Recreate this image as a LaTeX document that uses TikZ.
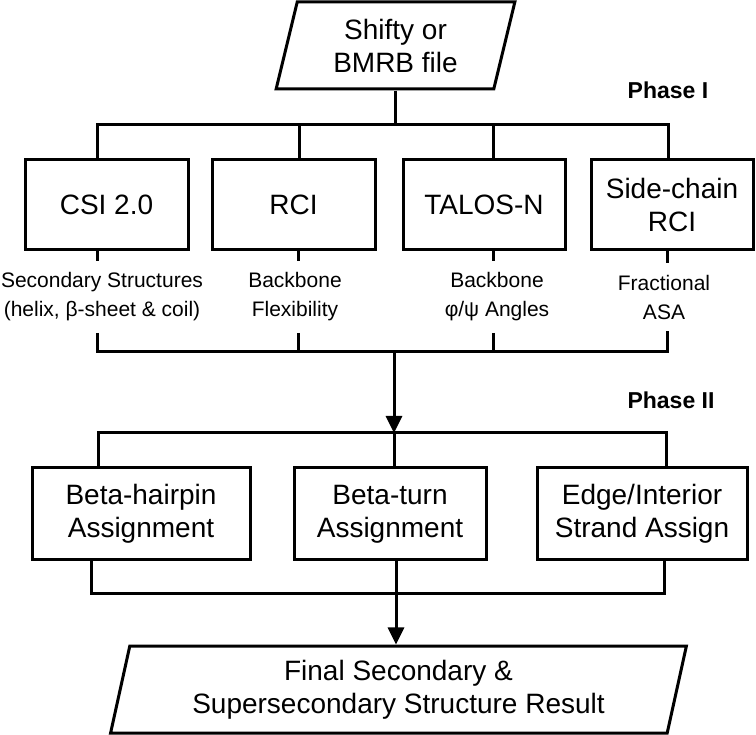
\documentclass[tikz,border=0pt]{standalone}
\usepackage{fontspec}
\setmainfont{Liberation Sans}
\usetikzlibrary{shapes.geometric,arrows.meta}

\begin{document}
\begin{tikzpicture}[x=1pt,y=-1pt,line width=3pt]

  \useasboundingbox (0,0) rectangle (756,735);

  \tikzset{box/.style={draw, rectangle, inner sep=0pt, align=center, font=\fontsize{28}{33}\selectfont},
    io/.style={draw, trapezium, trapezium left angle=76, trapezium right angle=104,
      trapezium stretches=true, inner sep=0pt, align=center, font=\fontsize{28}{33}\selectfont},
    lab/.style={inner sep=10pt, align=center, font=\fontsize{21}{29}\selectfont},
    phase/.style={font=\fontsize{23}{28}\selectfont\bfseries},
    arr/.style={-{Triangle[length=17pt,width=16pt]}}}

\node[io, minimum width=239, minimum height=87] (src) at (395.5,45.5) {Shifty or\\BMRB file};

\node[phase] (ph1) at (668,90) {Phase I};

\node[box, minimum width=163, minimum height=90] (csi) at (106.5,205) {CSI 2.0};
\node[box, minimum width=163, minimum height=90] (rci) at (293.5,205) {RCI};
\node[box, minimum width=162, minimum height=90] (talos) at (484,205) {TALOS-N};
\node[box, minimum width=162, minimum height=90] (sc) at (672,205) {Side-chain\\RCI};

\node[lab] (lab1) at (102,297) {Secondary Structures\\(helix, β-sheet \& coil)};
\node[lab] (lab2) at (295,297) {Backbone\\Flexibility};
\node[lab] (lab3) at (497,297) {Backbone\\φ/ψ Angles};
\node[lab] (lab4) at (664,297) {Fractional\\ASA};

\node[phase] (ph2) at (671,400) {Phase II};

\node[box, minimum width=218, minimum height=92] (hp) at (141,514) {Beta-hairpin\\Assignment};
\node[box, minimum width=192, minimum height=92] (bt) at (390,514) {Beta-turn\\Assignment};
\node[box, minimum width=210, minimum height=92] (ei) at (642,514) {Edge/Interior\\Strand Assign};

\node[io, minimum width=577, minimum height=87] (res) at (398.5,689.5) {Final Secondary \&\\Supersecondary Structure Result};

\coordinate (t1) at (97,125);
\coordinate (t2) at (299,125);
\coordinate (t3) at (493,125);
\coordinate (t4) at (668,125);
\coordinate (m0) at (394,352);
\coordinate (m1) at (97,352);
\coordinate (m2) at (298,352);
\coordinate (m3) at (493,352);
\coordinate (m4) at (667,352);
\coordinate (p0) at (394,433);
\coordinate (p1) at (98,433);
\coordinate (p3) at (666,433);
\coordinate (q0) at (396,593);
\coordinate (q1) at (91,593);
\coordinate (q3) at (664,593);

% phase I
\draw[] (src.south) -- (src.south |- t1);
\draw[] (t1 |- csi.north) -- (t1) -- (t4) -- (t4 |- sc.north);
\draw[] (t2) -- (t2 |- rci.north);
\draw[] (t3) -- (t3 |- talos.north);

\draw[] (t1 |- csi.south) -- (t1 |- lab1.north);
\draw[] (m2 |- rci.south) -- (m2 |- lab2.north);
\draw[] (m3 |- talos.south) -- (m3 |- lab3.north);
\draw[] (m4 |- sc.south) -- (m4 |- lab4.north);

\draw[] (m1 |- lab1.south) -- (m1) -- (m4) -- (m4 |- lab4.south);
\draw[] (m2 |- lab2.south) -- (m2);
\draw[] (m3 |- lab3.south) -- (m3);
\draw[arr] (m0) -- (p0);

% phase II
\draw[] (p1 |- hp.north) -- (p1) -- (p3) -- (p3 |- ei.north);
\draw[] (p0) -- (p0 |- bt.north);

\draw[] (q1 |- hp.south) -- (q1) -- (q3) -- (q3 |- ei.south);
\draw[] (q0 |- bt.south) -- (q0);
\draw[arr] (q0) -- (q0 |- res.north);

\end{tikzpicture}
\end{document}
